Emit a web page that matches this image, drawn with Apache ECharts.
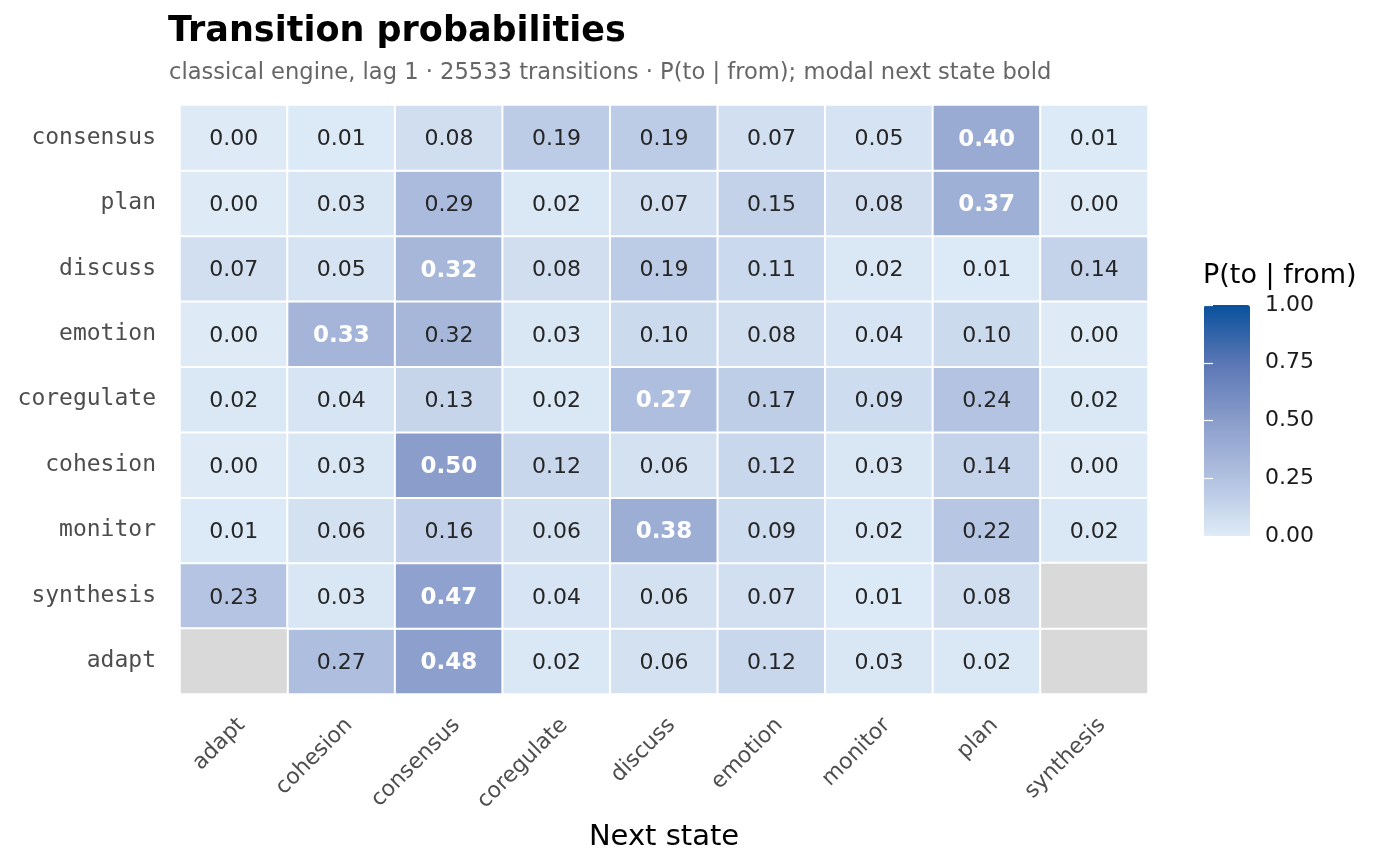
<!DOCTYPE html>
<html>
<head>
<meta charset="utf-8">
<script src="https://cdn.jsdelivr.net/npm/echarts@6/dist/echarts.min.js"></script>
<style>
  html, body { margin: 0; padding: 0; background: #fff; }
  #main { width: 1400px; height: 866px; }
</style>
</head>
<body>
<div id="main"></div>
<script>
// next state (columns)
var toStates = ['adapt', 'cohesion', 'consensus', 'coregulate', 'discuss', 'emotion', 'monitor', 'plan', 'synthesis'];
// current state (rows, bottom to top as drawn)
var fromStates = ['adapt', 'synthesis', 'monitor', 'cohesion', 'coregulate', 'emotion', 'discuss', 'plan', 'consensus'];

// P(to | from), one array per row; null = no transition observed
var pAdapt      = [null, 0.27, 0.48, 0.02, 0.06, 0.12, 0.03, 0.02, null];
var pSynthesis  = [0.23, 0.03, 0.47, 0.04, 0.06, 0.07, 0.01, 0.08, null];
var pMonitor    = [0.01, 0.06, 0.16, 0.06, 0.38, 0.09, 0.02, 0.22, 0.02];
var pCohesion   = [0.00, 0.03, 0.50, 0.12, 0.06, 0.12, 0.03, 0.14, 0.00];
var pCoregulate = [0.02, 0.04, 0.13, 0.02, 0.27, 0.17, 0.09, 0.24, 0.02];
var pEmotion    = [0.00, 0.33, 0.32, 0.03, 0.10, 0.08, 0.04, 0.10, 0.00];
var pDiscuss    = [0.07, 0.05, 0.32, 0.08, 0.19, 0.11, 0.02, 0.01, 0.14];
var pPlan       = [0.00, 0.03, 0.29, 0.02, 0.07, 0.15, 0.08, 0.37, 0.00];
var pConsensus  = [0.00, 0.01, 0.08, 0.19, 0.19, 0.07, 0.05, 0.40, 0.01];

var rows = [pAdapt, pSynthesis, pMonitor, pCohesion, pCoregulate, pEmotion, pDiscuss, pPlan, pConsensus];

var legendTicks = [0, 0.25, 0.5, 0.75, 1];

var cells = [];
var missing = [];
for (var r = 0; r < rows.length; r++) {
	var row = rows[r];
	var best = -1;
	for (var k = 0; k < row.length; k++) {
		if (row[k] != null && row[k] > best) best = row[k];
	}
	for (var c = 0; c < row.length; c++) {
		if (row[c] == null) {
			missing.push([c, r, 0]);
			continue;
		}
		var item = { value: [c, r, row[c]] };
		// modal next state -> bold white
		if (row[c] === best) {
			item.label = { color: '#ffffff', fontWeight: 'bold', fontSize: 23 };
		}
		cells.push(item);
	}
}

var chart = echarts.init(document.getElementById('main'));

var option = {
	backgroundColor: '#ffffff',
	animation: false,
	textStyle: { fontFamily: 'DejaVu Sans' },
	title: [{
		text: 'Transition probabilities',
		left: 168,
		top: 14,
		padding: 0,
		textStyle: { fontSize: 35, fontWeight: 'bold', color: '#000', fontFamily: 'DejaVu Sans' }
	}, {
		text: 'classical engine, lag 1 · 25533 transitions · P(to | from); modal next state bold',
		left: 169,
		top: 62,
		padding: 0,
		textStyle: { fontSize: 22.6, fontWeight: 'normal', color: '#666666', fontFamily: 'DejaVu Sans' }
	}, {
		text: 'P(to | from)',
		left: 1203,
		top: 262,
		padding: 0,
		textStyle: { fontSize: 27, fontWeight: 'normal', color: '#000', fontFamily: 'DejaVu Sans' }
	}],
	grid: [
		{ left: 180, right: 252, top: 105, bottom: 172 },
		{ left: 1204, top: 305, width: 46, height: 231 }
	],
	xAxis: [{
		type: 'category',
		data: toStates,
		gridIndex: 0,
		name: 'Next state',
		nameLocation: 'middle',
		nameGap: 129,
		nameTextStyle: { fontSize: 29, color: '#000' },
		axisLine: { show: false },
		axisTick: { show: false },
		splitLine: { show: false },
		axisLabel: {
			rotate: 45, fontSize: 22, color: '#4d4d4d', margin: 20, interval: 0,
			verticalAlign: 'top'
		}
	}, {
		type: 'value',
		gridIndex: 1,
		show: false,
		min: 0,
		max: 1
	}],
	yAxis: [{
		type: 'category',
		data: fromStates,
		gridIndex: 0,
		axisLine: { show: false },
		axisTick: { show: false },
		splitLine: { show: false },
		axisLabel: {
			fontSize: 23, color: '#4d4d4d', margin: 24, fontFamily: 'DejaVu Sans Mono',
			padding: [8, 0, 0, 0]
		}
	}, {
		type: 'value',
		gridIndex: 1,
		min: legendTicks[0],
		max: legendTicks[legendTicks.length - 1],
		interval: 0.25,
		position: 'right',
		z: 10,
		axisLine: { show: false },
		splitLine: { show: false },
		axisTick: { show: true, inside: true, length: 9, lineStyle: { color: '#ffffff', width: 1.2 } },
		axisLabel: {
			fontSize: 22, color: '#1a1a1a', margin: 15, padding: [8, 0, 0, 0],
			formatter: function (v) { return v.toFixed(2); }
		}
	}, {
		type: 'value',
		gridIndex: 1,
		min: 0,
		max: 1,
		interval: 0.25,
		position: 'left',
		z: 10,
		axisLine: { show: false },
		splitLine: { show: false },
		axisLabel: { show: false },
		axisTick: { show: true, inside: true, length: 9, lineStyle: { color: '#ffffff', width: 1.2 } }
	}],
	visualMap: {
		type: 'continuous',
		seriesIndex: 0,
		min: 0,
		max: 1,
		calculable: false,
		orient: 'vertical',
		left: 1204,
		top: 305,
		padding: 0,
		itemWidth: 46,
		itemHeight: 231,
		inRange: { color: ['#deebf7', '#b1c1e0', '#8a9dcb', '#5a76b4', '#08519c'] }
	},
	series: [{
		type: 'heatmap',
		xAxisIndex: 0,
		yAxisIndex: 0,
		data: cells,
		itemStyle: { borderColor: '#ffffff', borderWidth: 2 },
		label: {
			show: true,
			fontSize: 22,
			color: '#262626',
			offset: [0, 2],
			formatter: function (p) { return p.value[2].toFixed(2); }
		},
		emphasis: { disabled: true }
	}, {
		type: 'heatmap',
		xAxisIndex: 0,
		yAxisIndex: 0,
		data: missing,
		itemStyle: { color: '#d9d9d9', borderColor: '#ffffff', borderWidth: 2 },
		label: { show: false },
		emphasis: { disabled: true }
	}]
};

chart.setOption(option);
</script>
</body>
</html>
